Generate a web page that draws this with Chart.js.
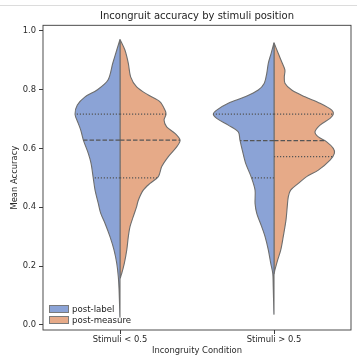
<!DOCTYPE html>
<html>
<head>
<meta charset="utf-8">
<script src="https://cdn.jsdelivr.net/npm/chart.js@4"></script>
<style>
  html, body { margin: 0; padding: 0; background: #fff; }
  #wrap { position: relative; width: 357px; height: 360px; }
  #topline { position: absolute; left: 0; top: 5px; width: 357px; height: 0; border-top: 1px solid #dcdcdc; }
  #legend { position: absolute; left: 49px; top: 303px; font-family: 'DejaVu Sans', sans-serif; font-size: 8.6px; color: #222; }
  .item { display: flex; align-items: center; height: 11px; }
  .sw { width: 18px; height: 6px; border: 1px solid #7a7a7a; margin-right: 3px; box-sizing: content-box; }
</style>
</head>
<body>
<div id="wrap">
  <canvas id="c" width="357" height="360"></canvas>
  <div id="topline"></div>
  <div id="legend"></div>
</div>
<script>
// ---- data ----
const categories = ['Stimuli < 0.5', 'Stimuli > 0.5'];
const seriesNames = ['post-label', 'post-measure'];
const seriesColors = ['#8ba3d6', '#e6aa88'];
const yTicks = [0.0, 0.2, 0.4, 0.6, 0.8, 1.0];

// density outline: accuracy level -> half width (in category units)
const lowLabelAcc   = [0.970, 0.934, 0.889, 0.832, 0.798, 0.775, 0.747, 0.716, 0.685, 0.662, 0.628, 0.583, 0.549, 0.504, 0.458, 0.413, 0.379, 0.345, 0.300, 0.255, 0.209, 0.164, 0.119, 0.030];
const lowLabelWidth = [0.000, 0.021, 0.047, 0.078, 0.149, 0.227, 0.277, 0.292, 0.271, 0.255, 0.238, 0.206, 0.188, 0.175, 0.162, 0.141, 0.125, 0.097, 0.065, 0.039, 0.021, 0.011, 0.006, 0.000];

const lowMeasureAcc   = [0.970, 0.934, 0.889, 0.843, 0.809, 0.781, 0.758, 0.730, 0.716, 0.696, 0.673, 0.651, 0.628, 0.605, 0.572, 0.538, 0.504, 0.481, 0.458, 0.424, 0.402, 0.368, 0.334, 0.300, 0.255, 0.209, 0.175, 0.160];
const lowMeasureWidth = [0.000, 0.032, 0.054, 0.069, 0.108, 0.184, 0.260, 0.292, 0.299, 0.286, 0.303, 0.357, 0.390, 0.368, 0.314, 0.271, 0.249, 0.195, 0.151, 0.119, 0.108, 0.086, 0.065, 0.054, 0.044, 0.028, 0.011, 0.000];

const highLabelAcc   = [0.959, 0.922, 0.889, 0.855, 0.821, 0.798, 0.775, 0.753, 0.730, 0.716, 0.702, 0.679, 0.656, 0.628, 0.594, 0.549, 0.504, 0.458, 0.413, 0.379, 0.334, 0.300, 0.255, 0.209, 0.175, 0.130, 0.040];
const highLabelWidth = [0.000, 0.019, 0.037, 0.047, 0.063, 0.102, 0.188, 0.297, 0.372, 0.394, 0.372, 0.297, 0.232, 0.221, 0.206, 0.184, 0.149, 0.123, 0.123, 0.112, 0.080, 0.058, 0.037, 0.021, 0.008, 0.005, 0.000];

const highMeasureAcc   = [0.959, 0.922, 0.889, 0.866, 0.843, 0.821, 0.798, 0.775, 0.753, 0.730, 0.716, 0.702, 0.679, 0.656, 0.639, 0.622, 0.600, 0.583, 0.560, 0.526, 0.504, 0.481, 0.458, 0.436, 0.402, 0.357, 0.300, 0.255, 0.221, 0.187, 0.175];
const highMeasureWidth = [0.000, 0.028, 0.054, 0.071, 0.067, 0.071, 0.115, 0.201, 0.299, 0.375, 0.385, 0.364, 0.299, 0.266, 0.288, 0.342, 0.385, 0.392, 0.364, 0.288, 0.212, 0.158, 0.108, 0.093, 0.086, 0.078, 0.060, 0.044, 0.024, 0.006, 0.000];

// quartiles [Q1, median, Q3]
const lowLabelQuartiles    = [0.500, 0.628, 0.716];
const lowMeasureQuartiles  = [0.500, 0.628, 0.716];
const highLabelQuartiles   = [0.500, 0.626, 0.716];
const highMeasureQuartiles = [0.572, 0.626, 0.716];

// ---- build datasets ----
const halves = [
  { cat: 0, side: -1, s: 0, acc: lowLabelAcc, w: lowLabelWidth, q: lowLabelQuartiles },
  { cat: 0, side: 1, s: 1, acc: lowMeasureAcc, w: lowMeasureWidth, q: lowMeasureQuartiles },
  { cat: 1, side: -1, s: 0, acc: highLabelAcc, w: highLabelWidth, q: highLabelQuartiles },
  { cat: 1, side: 1, s: 1, acc: highMeasureAcc, w: highMeasureWidth, q: highMeasureQuartiles }
];

function widthAt(v, accs, ws) {
  for (let i = 0; i < accs.length - 1; i++) {
    const a = accs[i], b = accs[i + 1];
    if (v <= a && v >= b) {
      const t = (a - v) / (a - b);
      return ws[i] + t * (ws[i + 1] - ws[i]);
    }
  }
  return 0;
}

const datasets = [];
halves.forEach(h => {
  const pts = h.acc.map((a, i) => ({ x: h.cat + h.side * h.w[i], y: a }));
  pts.push({ x: h.cat, y: h.acc[0] });
  datasets.push({
    label: seriesNames[h.s],
    data: pts,
    showLine: true,
    fill: 'shape',
    backgroundColor: seriesColors[h.s],
    borderColor: '#6e6e6e',
    borderWidth: 1.1,
    pointRadius: 0,
    tension: 0.3,
    order: 2
  });
  h.q.forEach((qv, k) => {
    const wq = widthAt(qv, h.acc, h.w);
    datasets.push({
      label: seriesNames[h.s] + ' q' + k,
      data: [{ x: h.cat, y: qv }, { x: h.cat + h.side * wq, y: qv }],
      showLine: true,
      fill: false,
      borderColor: '#555555',
      borderWidth: 1.2,
      borderDash: k === 1 ? [4.5, 2] : [1.2, 1.8],
      pointRadius: 0,
      order: 1
    });
  });
});

const boxPlugin = {
  id: 'box',
  afterDatasetsDraw(chart) {
    const { ctx, chartArea: a } = chart;
    ctx.save();
    ctx.strokeStyle = '#3a3a3a';
    ctx.lineWidth = 0.9;
    ctx.strokeRect(a.left, a.top, a.right - a.left, a.bottom - a.top);
    ctx.restore();
  }
};

const FONT = 'DejaVu Sans';
new Chart(document.getElementById('c'), {
  type: 'scatter',
  data: { datasets },
  options: {
    responsive: false,
    animation: false,
    layout: { padding: { left: 0, right: 6, top: 0, bottom: 0 } },
    plugins: {
      legend: { display: false },
      tooltip: { enabled: false },
      title: {
        display: true,
        text: 'Incongruit accuracy by stimuli position',
        fullSize: false,
        color: '#1e1e1e',
        font: { family: FONT, size: 10, weight: 'normal' },
        padding: { top: 10, bottom: 3.3 }
      }
    },
    scales: {
      x: {
        type: 'linear',
        min: -0.5, max: 1.5,
        afterBuildTicks: s => { s.ticks = categories.map((c, i) => ({ value: i })); },
        afterFit: s => { s.height = 30; },
        ticks: {
          callback: (v) => categories[v],
          color: '#2a2a2a',
          font: { family: FONT, size: 8.4 },
          padding: 1,
          maxRotation: 0,
          autoSkip: false
        },
        grid: { drawOnChartArea: false, drawTicks: true, tickLength: 4, color: '#3a3a3a' },
        border: { display: false },
        title: {
          display: true,
          text: 'Incongruity Condition',
          color: '#2a2a2a',
          font: { family: FONT, size: 8.4 },
          padding: { top: 0, bottom: 4 }
        }
      },
      y: {
        type: 'linear',
        min: -0.017, max: 1.018,
        afterBuildTicks: s => { s.ticks = yTicks.map(v => ({ value: v })); },
        afterFit: s => { s.width = 43; },
        ticks: {
          callback: (v) => Number(v).toFixed(1),
          color: '#2a2a2a',
          font: { family: FONT, size: 8.4 },
          padding: 3
        },
        grid: { drawOnChartArea: false, drawTicks: true, tickLength: 4, color: '#3a3a3a' },
        border: { display: false },
        title: {
          display: true,
          text: 'Mean Accuracy',
          color: '#2a2a2a',
          font: { family: FONT, size: 8.4 },
          padding: { top: 10, bottom: 0 }
        }
      }
    }
  },
  plugins: [boxPlugin]
});

// legend (HTML, real text)
const lg = document.getElementById('legend');
seriesNames.forEach((n, i) => {
  const d = document.createElement('div');
  d.className = 'item';
  const sw = document.createElement('span');
  sw.className = 'sw';
  sw.style.background = seriesColors[i];
  const t = document.createElement('span');
  t.textContent = n;
  d.appendChild(sw); d.appendChild(t);
  lg.appendChild(d);
});
</script>
</body>
</html>
